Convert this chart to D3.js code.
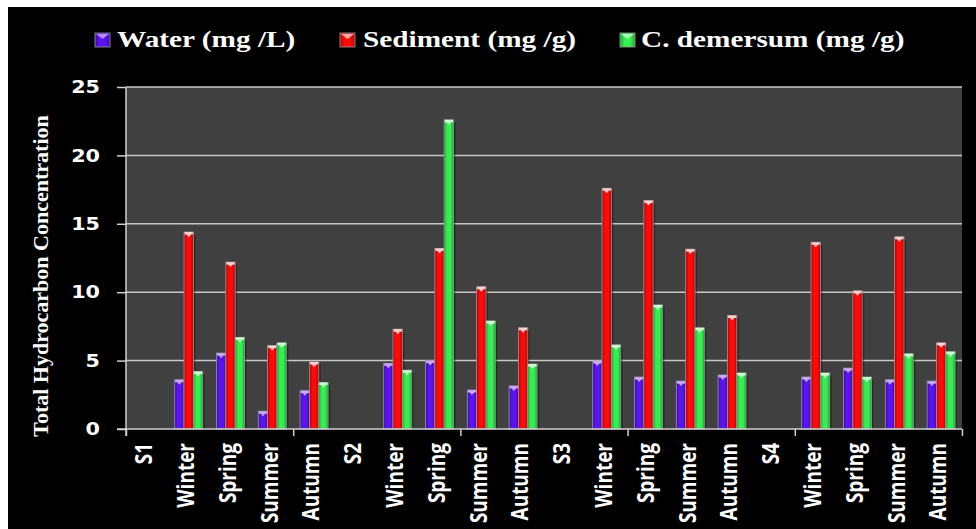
<!DOCTYPE html>
<html lang="en">
<head>
<meta charset="utf-8">
<title>Total Hydrocarbon Concentration</title>
<style>
  body { margin: 0; background: #fff; }
  svg { display: block; }
</style>
</head>
<body>
<svg width="976" height="529"></svg>
<script src="https://d3js.org/d3.v7.min.js"></script>
<script>

    var categories = ["S1", "Winter", "Spring", "Summer", "Autumn",
                      "S2", "Winter", "Spring", "Summer", "Autumn",
                      "S3", "Winter", "Spring", "Summer", "Autumn",
                      "S4", "Winter", "Spring", "Summer", "Autumn"];

    var water    = [null, 3.6, 5.55, 1.3, 2.8,  null, 4.8, 5.0, 2.85, 3.15,
                    null, 4.97, 3.8, 3.5, 3.95, null, 3.8, 4.45, 3.6, 3.5];
    var sediment = [null, 14.4, 12.2, 6.1, 4.9, null, 7.3, 13.2, 10.4, 7.4,
                    null, 17.6, 16.7, 13.15, 8.3, null, 13.65, 10.1, 14.05, 6.3];
    var demersum = [null, 4.2, 6.7, 6.3, 3.4,  null, 4.3, 22.6, 7.9, 4.75,
                    null, 6.15, 9.07, 7.4, 4.1, null, 4.1, 3.8, 5.5, 5.65];

    var seriesNames = ["Water (mg /L)", "Sediment (mg /g)", "C. demersum (mg /g)"];
    var yTicks = [0, 5, 10, 15, 20, 25];
    var yTitle = "Total Hydrocarbon Concentration";

    var series = [
        {key: "water", name: seriesNames[0], values: water, color: "#5a14f0", dark: "#3a0aa8", cap: "#c8a8ff"},
        {key: "sediment", name: seriesNames[1], values: sediment, color: "#ff0a0a", dark: "#b00000", cap: "#ffd0d0"},
        {key: "demersum", name: seriesNames[2], values: demersum, color: "#36ee52", dark: "#14a82c", cap: "#c8ffd0"}
    ];

    var svg = d3.select("svg"),
        width = +svg.attr("width"),
        height = +svg.attr("height");

    var plotL = 126, plotR = 962, plotT = 87, plotB = 429;
    var stretch = 1.22; // the source picture is widened horizontally

    // black panel
    svg.append("rect")
        .attr("x", 8).attr("y", 7)
        .attr("width", width - 8).attr("height", height - 7)
        .attr("fill", "#000");

    var x = d3.scaleBand()
        .domain(d3.range(categories.length))
        .range([plotL, plotR])
        .paddingInner(0.33)
        .paddingOuter(0.165);

    var xBound = d3.scaleLinear().domain([0, categories.length]).range([plotL, plotR]);

    var xs = d3.scaleBand()
        .domain(series.map(function(s) { return s.key; }))
        .range([0, x.bandwidth()]);

    var y = d3.scaleLinear().domain([0, 25]).range([plotB, plotT]);

    var defs = svg.append("defs");
    series.forEach(function(s) {
        var g = defs.append("linearGradient")
            .attr("id", "grad-" + s.key)
            .attr("x1", "0").attr("x2", "1").attr("y1", "0").attr("y2", "0");
        g.append("stop").attr("offset", "0").attr("stop-color", s.dark);
        g.append("stop").attr("offset", "0.3").attr("stop-color", s.color);
        g.append("stop").attr("offset", "0.7").attr("stop-color", s.color);
        g.append("stop").attr("offset", "1").attr("stop-color", s.dark);
    });

    // plot background
    svg.append("rect")
        .attr("x", plotL).attr("y", plotT)
        .attr("width", plotR - plotL).attr("height", plotB - plotT)
        .attr("fill", "#404040");

    // grid lines
    svg.append("g")
        .selectAll("line")
        .data(yTicks.filter(function(d) { return d > 0; }))
        .enter().append("line")
        .attr("x1", plotL).attr("x2", plotR)
        .attr("y1", function(d) { return y(d); })
        .attr("y2", function(d) { return y(d); })
        .attr("stroke", "#c8c8c8")
        .attr("stroke-width", 1.5);

    // bars
    series.forEach(function(s) {
        var data = s.values.map(function(v, i) { return {i: i, v: v}; })
            .filter(function(d) { return d.v != null; });
        var g = svg.append("g");

        g.selectAll(".shadow").data(data).enter().append("rect")
            .attr("x", function(d) { return x(d.i) + xs(s.key) + 2; })
            .attr("y", function(d) { return y(d.v) + 3; })
            .attr("width", xs.bandwidth())
            .attr("height", function(d) { return Math.max(0, plotB - y(d.v) - 3); })
            .attr("fill", "#000").attr("opacity", 0.35);

        g.selectAll(".bar").data(data).enter().append("rect")
            .attr("x", function(d) { return x(d.i) + xs(s.key); })
            .attr("y", function(d) { return y(d.v); })
            .attr("width", xs.bandwidth())
            .attr("height", function(d) { return plotB - y(d.v); })
            .attr("fill", "url(#grad-" + s.key + ")")
            .attr("stroke", "#9a9a9a")
            .attr("stroke-width", 0.8);

        g.selectAll(".cap").data(data).enter().append("rect")
            .attr("x", function(d) { return x(d.i) + xs(s.key) + 0.5; })
            .attr("y", function(d) { return y(d.v); })
            .attr("width", xs.bandwidth() - 1)
            .attr("height", 2.5)
            .attr("fill", s.cap);

        g.selectAll(".tri").data(data).enter().append("path")
            .attr("d", function(d) {
                var cx = x(d.i) + xs(s.key) + xs.bandwidth() / 2, ty = y(d.v) + 2;
                return "M" + (cx - 2.5) + "," + ty + "L" + (cx + 2.5) + "," + ty + "L" + cx + "," + (ty + 3) + "Z";
            })
            .attr("fill", s.cap);
    });

    // axes lines
    var axisColor = "#d0d0d0";
    svg.append("line")
        .attr("x1", plotL).attr("x2", plotL).attr("y1", plotT).attr("y2", plotB + 7)
        .attr("stroke", axisColor).attr("stroke-width", 1.5);
    svg.append("line")
        .attr("x1", plotL - 9).attr("x2", plotR).attr("y1", plotB).attr("y2", plotB)
        .attr("stroke", axisColor).attr("stroke-width", 1.5);

    var yAxis = svg.append("g")
        .attr("transform", "translate(" + plotL + ",0)")
        .call(d3.axisLeft(y).tickValues(yTicks).tickSize(9).tickFormat(""));
    yAxis.select(".domain").remove();
    yAxis.selectAll("line").attr("stroke", axisColor).attr("stroke-width", 1.5);

    var xAxis = svg.append("g")
        .attr("transform", "translate(0," + plotB + ")")
        .call(d3.axisBottom(xBound).tickValues([0, 4, 8, 12, 16, 20]).tickSize(7).tickFormat(""));
    xAxis.select(".domain").remove();
    xAxis.selectAll("line").attr("stroke", axisColor).attr("stroke-width", 1.5);

    // y tick labels
    svg.append("g")
        .selectAll("text")
        .data(yTicks)
        .enter().append("text")
        .attr("transform", function(d) { return "translate(100," + y(d) + ") scale(" + stretch + ",1)"; })
        .attr("dy", "0.36em")
        .attr("text-anchor", "end")
        .attr("font-family", "'DejaVu Sans', sans-serif")
        .attr("font-weight", "bold")
        .attr("font-size", 17)
        .attr("fill", "#fff")
        .text(function(d) { return d; });

    // x category labels
    svg.append("g")
        .selectAll("text")
        .data(categories)
        .enter().append("text")
        .attr("transform", function(d, i) {
            return "translate(" + (x(i) + x.bandwidth() / 2 - 3) + "," + 443 + ") scale(" + stretch + ",1) rotate(-90)";
        })
        .attr("dy", "0.36em")
        .attr("text-anchor", "end")
        .attr("font-family", "'Open Sans', sans-serif")
        .attr("font-weight", "bold")
        .attr("font-size", 19)
        .attr("fill", "#fff")
        .text(function(d) { return d; });

    // y title
    svg.append("text")
        .attr("transform", "translate(40,276) rotate(-90)")
        .attr("dy", "0.35em")
        .attr("text-anchor", "middle")
        .attr("font-family", "'Liberation Serif', 'Times New Roman', serif")
        .attr("font-weight", "bold")
        .attr("font-size", 22)
        .attr("fill", "#fff")
        .text(yTitle);

    // legend
    var legendPos = [{m: 95, t: 117}, {m: 340, t: 363}, {m: 620, t: 641}];
    var legend = svg.append("g")
        .selectAll("g")
        .data(series)
        .enter().append("g");
    legend.append("rect")
        .attr("x", function(d, i) { return legendPos[i].m; })
        .attr("y", 33)
        .attr("width", 15).attr("height", 14)
        .attr("fill", function(d) { return "url(#grad-" + d.key + ")"; })
        .attr("stroke", "#9a9a9a").attr("stroke-width", 0.8);
    legend.append("path")
        .attr("d", function(d, i) {
            var mx = legendPos[i].m;
            return "M" + (mx + 1) + ",34L" + (mx + 14) + ",34L" + (mx + 7.5) + ",39Z";
        })
        .attr("fill", function(d) { return d.cap; })
        .attr("opacity", 0.8);
    legend.append("text")
        .attr("transform", function(d, i) { return "translate(" + legendPos[i].t + ",47) scale(1.22,1)"; })
        .attr("font-family", "'Liberation Serif', 'Times New Roman', serif")
        .attr("font-weight", "bold")
        .attr("font-size", 24)
        .attr("fill", "#fff")
        .text(function(d) { return d.name; });

</script>
</body>
</html>
